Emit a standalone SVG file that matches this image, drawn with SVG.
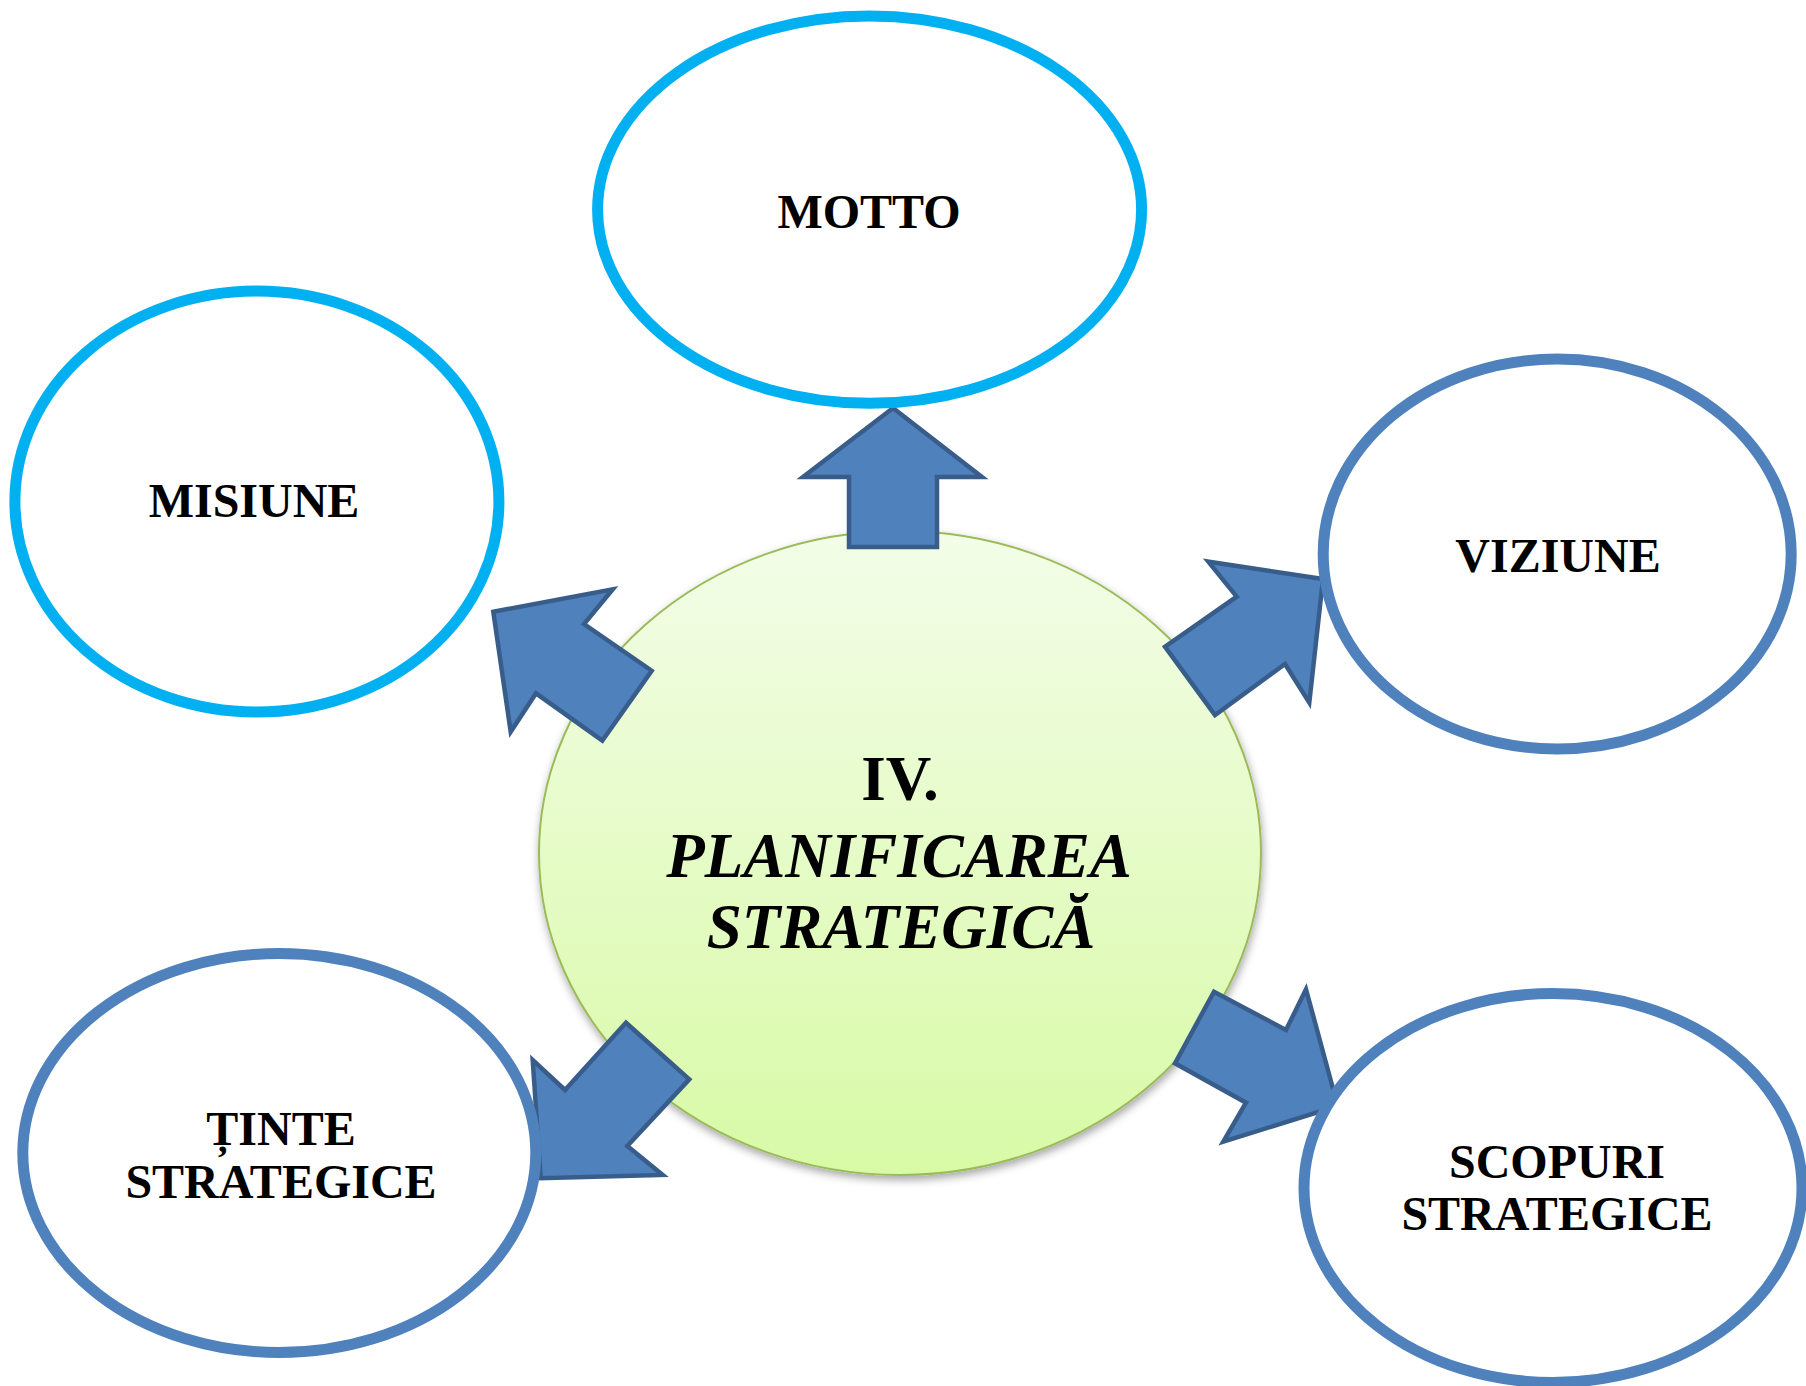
<svg xmlns="http://www.w3.org/2000/svg" width="1806" height="1386" viewBox="0 0 1806 1386">
  <defs>
    <linearGradient id="gc" x1="0" y1="0" x2="0" y2="1">
      <stop offset="0" stop-color="#F3FDE8"/>
      <stop offset="1" stop-color="#D8FAA6"/>
    </linearGradient>
    <filter id="sh" x="-10%" y="-10%" width="120%" height="125%">
      <feDropShadow dx="1" dy="4" stdDeviation="4" flood-color="#000" flood-opacity="0.35"/>
    </filter>
    <style>
      .arrow { fill: #4F81BD; stroke: #385D8A; stroke-width: 4.5; stroke-linejoin: miter; }
      .cyan { fill: #FFFFFF; stroke: #00B0F0; stroke-width: 11; }
      .blue { fill: #FFFFFF; stroke: #4F81BD; stroke-width: 11; }
      .lbl { font-family: "Liberation Serif", "Times New Roman", serif; font-weight: bold; font-size: 48px; fill: #000; text-anchor: middle; }
      .ctr { font-family: "Liberation Serif", "Times New Roman", serif; font-weight: bold; font-size: 63px; fill: #000; text-anchor: middle; }
    </style>
  </defs>
  <rect width="1806" height="1386" fill="#FFFFFF"/>

  <g id="center">
    <ellipse cx="900" cy="853" rx="361" ry="322" fill="url(#gc)" stroke="#9BBB59" stroke-width="2" filter="url(#sh)"/>
    <text class="ctr" x="900" y="800">IV.</text>
    <text class="ctr" x="899" y="877" font-style="italic">PLANIFICAREA</text>
    <text class="ctr" x="901" y="948" font-style="italic">STRATEGICĂ</text>
  </g>

  <g id="connectors">
    <polygon class="arrow" points="893,408 982,477 937,477 937,547 849,547 849,477 803,477"/>
    <polygon class="arrow" points="493.3,611.7 612.7,589.3 584,624 651.7,670.7 602.3,740.7 536,693.3 510.7,731.7"/>
    <polygon class="arrow" points="1323,579 1208.3,561.7 1236.7,596.7 1165,646.7 1215,715 1285,664 1309.3,702.7"/>
    <polygon class="arrow" points="540.7,1178.3 532.7,1060 565,1090 626,1022.7 689.3,1079.3 627.3,1146 662.7,1175"/>
    <polygon class="arrow" points="1337.7,1106 1306,989.3 1286,1030 1214,991.7 1175,1063.3 1246,1102.7 1223.3,1141.7"/>
  </g>

  <g id="motto">
    <ellipse class="cyan" cx="869.6" cy="209.6" rx="272" ry="193.7"/>
    <text class="lbl" x="869" y="227.7">MOTTO</text>
  </g>

  <g id="misiune">
    <ellipse class="cyan" cx="256.9" cy="501.6" rx="242" ry="210.5"/>
    <text class="lbl" x="254" y="516.7">MISIUNE</text>
  </g>

  <g id="viziune">
    <ellipse class="blue" cx="1557.2" cy="554" rx="234" ry="195"/>
    <text class="lbl" x="1558" y="571.7">VIZIUNE</text>
  </g>

  <g id="tinte">
    <ellipse class="blue" cx="279.3" cy="1153" rx="256.5" ry="199.5"/>
    <text class="lbl" x="281" y="1145">ȚINTE</text>
    <text class="lbl" x="281" y="1198.3">STRATEGICE</text>
  </g>

  <g id="scopuri">
    <ellipse class="blue" cx="1553" cy="1188" rx="249" ry="194.5"/>
    <text class="lbl" x="1557" y="1178.3">SCOPURI</text>
    <text class="lbl" x="1557" y="1230">STRATEGICE</text>
  </g>
</svg>
